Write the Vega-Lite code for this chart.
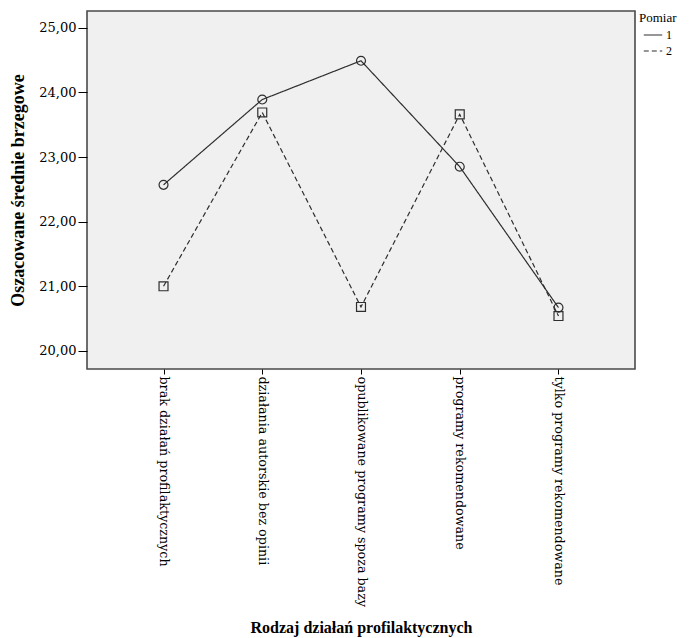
{
  "$schema": "https://vega.github.io/schema/vega-lite/v6.json",
  "width": 548,
  "height": 358,
  "autosize": {"type": "none"},
  "padding": {"left": 87, "top": 11, "right": 61, "bottom": 269},
  "background": "white",
  "config": {
    "view": {"fill": "#f0f0f0", "stroke": "#4a4a4a", "strokeWidth": 1.6},
    "font": "Liberation Serif"
  },
  "data": {
    "values": [
      {"kategoria": "brak działań profilaktycznych", "Pomiar": "1", "wartosc": 22.57},
      {"kategoria": "działania autorskie bez opinii", "Pomiar": "1", "wartosc": 23.89},
      {"kategoria": "opublikowane programy spoza bazy", "Pomiar": "1", "wartosc": 24.49},
      {"kategoria": "programy rekomendowane", "Pomiar": "1", "wartosc": 22.85},
      {"kategoria": "tylko programy rekomendowane", "Pomiar": "1", "wartosc": 20.67},
      {"kategoria": "brak działań profilaktycznych", "Pomiar": "2", "wartosc": 21.0},
      {"kategoria": "działania autorskie bez opinii", "Pomiar": "2", "wartosc": 23.69},
      {"kategoria": "opublikowane programy spoza bazy", "Pomiar": "2", "wartosc": 20.68},
      {"kategoria": "programy rekomendowane", "Pomiar": "2", "wartosc": 23.66},
      {"kategoria": "tylko programy rekomendowane", "Pomiar": "2", "wartosc": 20.54}
    ]
  },
  "encoding": {
    "x": {
      "field": "kategoria",
      "type": "nominal",
      "scale": {
        "type": "point",
        "padding": 0.775,
        "domain": ["brak działań profilaktycznych", "działania autorskie bez opinii", "opublikowane programy spoza bazy", "programy rekomendowane", "tylko programy rekomendowane"]
      },
      "axis": {
        "title": "Rodzaj działań profilaktycznych",
        "titleFont": "Liberation Serif",
        "titleFontWeight": "bold",
        "titleFontSize": 16,
        "titleColor": "#000",
        "titleY": 258,
        "titleBaseline": "middle",
        "labelAngle": 90,
        "labelAlign": "left",
        "labelBaseline": "middle",
        "labelFont": "DejaVu Serif",
        "labelFontSize": 12.7,
        "labelColor": "#000",
        "labelPadding": 2,
        "labelLimit": 300,
        "tickSize": 5,
        "tickColor": "#000",
        "domain": false,
        "grid": false
      }
    },
    "y": {
      "field": "wartosc",
      "type": "quantitative",
      "scale": {"domain": [19.72, 25.26], "nice": false, "zero": false},
      "axis": {
        "title": "Oszacowane średnie brzegowe",
        "titleFont": "Liberation Serif",
        "titleFontWeight": "bold",
        "titleFontSize": 18,
        "titleColor": "#000",
        "titleX": -69,
        "titleBaseline": "middle",
        "values": [20, 21, 22, 23, 24, 25],
        "labelExpr": "replace(format(datum.value, '.2f'), '.', ',')",
        "labelFont": "DejaVu Serif",
        "labelFontSize": 13,
        "labelColor": "#000",
        "labelPadding": 2,
        "tickSize": 9,
        "tickColor": "#000",
        "domain": false,
        "grid": false
      }
    }
  },
  "resolve": {"legend": {"strokeDash": "independent", "shape": "independent"}},
  "layer": [
    {
      "mark": {"type": "line", "color": "#2e2e2e", "strokeWidth": 1.2},
      "encoding": {
        "strokeDash": {
          "field": "Pomiar",
          "type": "nominal",
          "scale": {"domain": ["1", "2"], "range": [[1, 0], [5, 3]]},
          "legend": {
            "orient": "none",
            "legendX": 552,
            "legendY": 1,
            "title": "Pomiar",
            "titleFont": "Liberation Serif",
            "titleFontWeight": "normal",
            "titleFontSize": 13,
            "titleColor": "#000",
            "titlePadding": 0,
            "labelFont": "Liberation Serif",
            "labelFontSize": 12,
            "labelColor": "#000",
            "labelOffset": 3,
            "symbolType": "stroke",
            "symbolSize": 340,
            "symbolOffset": 4,
            "symbolStrokeColor": "#2e2e2e",
            "symbolStrokeWidth": 1.2,
            "rowPadding": -5,
            "padding": 0
          }
        }
      }
    },
    {
      "mark": {"type": "point", "filled": false, "color": "#2e2e2e", "strokeWidth": 1.2, "size": 80, "opacity": 1},
      "encoding": {
        "shape": {
          "field": "Pomiar",
          "type": "nominal",
          "scale": {"domain": ["1", "2"], "range": ["circle", "square"]},
          "legend": null
        }
      }
    }
  ]
}
